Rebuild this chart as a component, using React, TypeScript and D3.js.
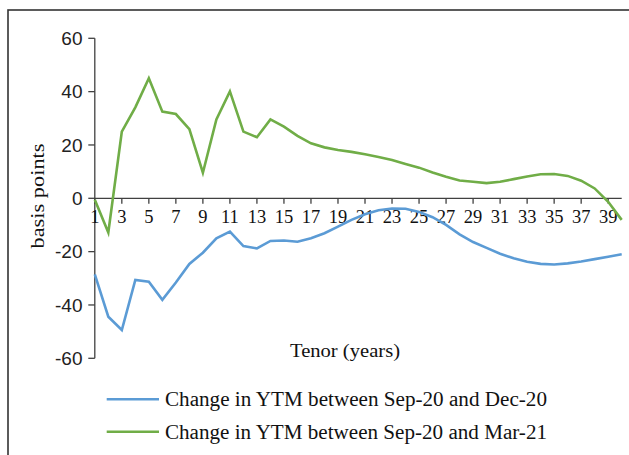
import React from "react";
import * as d3 from "d3";

const tenors: number[] = d3.range(1, 41);
const dec20: number[] = [
  -28.5, -44.4, -49.4, -30.6, -31.3, -38.1, -31.6, -24.6, -20.4, -15.0,
  -12.5, -17.9, -18.8, -16.0, -15.8, -16.3, -15.0, -13.1, -10.6, -8.1,
  -6.0, -4.5, -3.8, -3.9, -5.1, -7.1, -10.0, -13.5, -16.4, -18.6,
  -20.8, -22.5, -23.8, -24.6, -24.8, -24.4, -23.7, -22.8, -21.9, -21.0,
];
const mar21: number[] = [
  -0.5, -12.8, 25.0, 34.1, 45.0, 32.5, 31.6, 25.9, 9.6, 29.6,
  40.1, 25.0, 22.9, 29.6, 26.9, 23.4, 20.6, 19.1, 18.1, 17.4,
  16.5, 15.5, 14.4, 12.9, 11.5, 9.7, 8.1, 6.7, 6.2, 5.7,
  6.2, 7.2, 8.2, 9.0, 9.1, 8.4, 6.6, 3.7, -1.3, -8.1,
];
const yTicks: number[] = [60, 40, 20, 0, -20, -40, -60];
const xTickLabels: number[] = d3.range(1, 40, 2);
const seriesNames: string[] = [
  "Change in YTM between Sep-20 and Dec-20",
  "Change in YTM between Sep-20 and Mar-21",
];
const seriesColors: string[] = ["#5B9BD5", "#70AD47"];

export default function App() {
  const W = 629;
  const H = 455;
  const x = d3.scaleLinear().domain([1, 40]).range([94.8, 621.7]);
  const y = d3.scaleLinear().domain([-60, 60]).range([358.3, 38.3]);
  const line = d3
    .line<number>()
    .x((_, i) => x(tenors[i]))
    .y((d) => y(d));
  const series = [dec20, mar21];
  const axisColor = "#404040";
  const serif = "'Liberation Serif', 'DejaVu Serif', serif";
  const sans = "'Liberation Sans', Arial, sans-serif";

  return (
    <svg
      width={W}
      height={H}
      style={{ position: "absolute", left: 0, top: 0, background: "#fff" }}
    >
      <rect x={8} y={10} width={W} height={H} fill="#fff" stroke="#333" strokeWidth={1.6} />
      {/* y axis */}
      <line x1={x(1)} x2={x(1)} y1={y(60)} y2={y(-60)} stroke={axisColor} strokeWidth={1.3} />
      {yTicks.map((t) => (
        <g key={"y" + t}>
          <line x1={x(1) - 6.5} x2={x(1)} y1={y(t)} y2={y(t)} stroke={axisColor} strokeWidth={1.3} />
          <text
            x={82.5}
            y={y(t)}
            dy="0.36em"
            textAnchor="end"
            fontFamily={sans}
            fontSize={19}
            fill="#222"
          >
            {t}
          </text>
        </g>
      ))}
      {/* x axis */}
      <line x1={x(1)} x2={x(40)} y1={y(0)} y2={y(0)} stroke={axisColor} strokeWidth={1.3} />
      {xTickLabels.map((t) => (
        <g key={"x" + t}>
          <line x1={x(t)} x2={x(t)} y1={y(0)} y2={y(0) + 5.5} stroke={axisColor} strokeWidth={1.3} />
          <text
            x={x(t)}
            y={223}
            textAnchor="middle"
            fontFamily={serif}
            fontSize={18.5}
            fill="#111"
          >
            {t}
          </text>
        </g>
      ))}
      {/* series */}
      {series.map((s, i) => (
        <path
          key={"s" + i}
          d={line(s) || ""}
          fill="none"
          stroke={seriesColors[i]}
          strokeWidth={2.6}
          strokeLinejoin="miter"
        />
      ))}
      {/* axis titles */}
      <text
        transform="translate(43.5,196) rotate(-90)"
        textAnchor="middle"
        fontFamily={serif}
        fontSize={19}
        textLength={105}
        lengthAdjust="spacingAndGlyphs"
        fill="#111"
      >
        basis points
      </text>
      <text
        x={290}
        y={357}
        fontFamily={serif}
        fontSize={19}
        textLength={110}
        lengthAdjust="spacingAndGlyphs"
        fill="#111"
      >
        Tenor (years)
      </text>
      {/* legend */}
      {seriesNames.map((n, i) => {
        const ly = 399.3 + i * 32.4;
        return (
          <g key={"l" + i}>
            <line x1={106.7} x2={159} y1={ly} y2={ly} stroke={seriesColors[i]} strokeWidth={2.6} />
            <text
              x={165}
              y={ly + 7}
              fontFamily={serif}
              fontSize={20}
              textLength={382}
              lengthAdjust="spacingAndGlyphs"
              fill="#111"
            >
              {n}
            </text>
          </g>
        );
      })}
    </svg>
  );
}
